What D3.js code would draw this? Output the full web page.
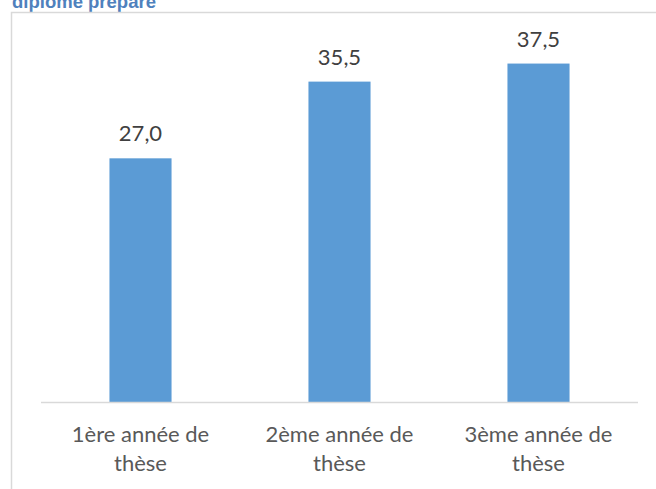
<!DOCTYPE html>
<html>
<head>
<meta charset="utf-8">
<script src="https://cdn.jsdelivr.net/npm/d3@7"></script>
<style>
  html, body { margin: 0; padding: 0; background: #fff; overflow: hidden; }
  #chart { width: 656px; height: 489px; }
</style>
</head>
<body>
<div id="chart"></div>
<script>
// data
var categories = [["1ère année de", "thèse"], ["2ème année de", "thèse"], ["3ème année de", "thèse"]];
var values = [27.0, 35.5, 37.5];
var title = "diplôme préparé";

var width = 656, height = 489;
var svg = d3.select("#chart").append("svg")
    .attr("width", width)
    .attr("height", height);

// title, cut off at the top like the source
svg.append("text")
    .attr("x", 12)
    .attr("y", 8)
    .attr("font-family", "Liberation Sans, Arial, sans-serif")
    .attr("font-weight", "bold")
    .attr("font-size", 18.5)
    .attr("fill", "#4f81bd")
    .text(title);

// chart frame
svg.append("rect")
    .attr("x", 11.5)
    .attr("y", 12.5)
    .attr("width", 700)
    .attr("height", 500)
    .attr("fill", "none")
    .attr("stroke", "#d9d9d9")
    .attr("stroke-width", 1.5);

var x = d3.scaleBand()
    .domain(d3.range(values.length))
    .range([41, 638])
    .paddingInner(0.688)
    .paddingOuter(0.344);

var y = d3.scaleLinear()
    .domain([0, 40])
    .range([402, 41]);

svg.selectAll("rect.bar")
    .data(values)
    .enter().append("rect")
    .attr("class", "bar")
    .attr("x", function(d, i) { return x(i); })
    .attr("y", function(d) { return y(d); })
    .attr("width", x.bandwidth())
    .attr("height", function(d) { return y(0) - y(d); })
    .attr("fill", "#5b9bd5");

// axis line
svg.append("line")
    .attr("x1", 41)
    .attr("x2", 638)
    .attr("y1", y(0) + 0.5)
    .attr("y2", y(0) + 0.5)
    .attr("stroke", "#d9d9d9")
    .attr("stroke-width", 1.5);

var fmt = function(v) { return d3.format(".1f")(v).replace(".", ","); };

svg.selectAll("text.val")
    .data(values)
    .enter().append("text")
    .attr("class", "val")
    .attr("x", function(d, i) { return x(i) + x.bandwidth() / 2; })
    .attr("y", function(d) { return y(d) - 17; })
    .attr("text-anchor", "middle")
    .attr("font-family", "Lato, sans-serif")
    .attr("font-size", 22)
    .attr("fill", "#404040")
    .text(fmt);

var lab = svg.selectAll("text.cat")
    .data(categories)
    .enter().append("text")
    .attr("class", "cat")
    .attr("text-anchor", "middle")
    .attr("font-family", "Lato, sans-serif")
    .attr("font-size", 22)
    .attr("fill", "#595959");

lab.selectAll("tspan")
    .data(function(d, i) { return d.map(function(s) { return {s: s, i: i}; }); })
    .enter().append("tspan")
    .attr("x", function(d) { return x(d.i) + x.bandwidth() / 2; })
    .attr("y", function(d, j) { return 442 + j * 29; })
    .text(function(d) { return d.s; });
</script>
</body>
</html>
